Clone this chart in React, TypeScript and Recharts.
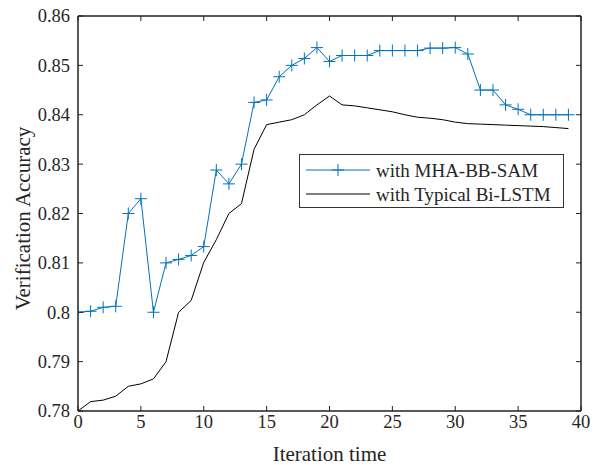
import React from "react";
import { LineChart, Line, XAxis, YAxis, Legend } from "recharts";

const iterations = [
  0, 1, 2, 3, 4, 5, 6, 7, 8, 9, 10, 11, 12, 13, 14, 15, 16, 17, 18, 19,
  20, 21, 22, 23, 24, 25, 26, 27, 28, 29, 30, 31, 32, 33, 34, 35, 36, 37, 38, 39,
];
const mhaBbSam = [
  0.8, 0.8002, 0.801, 0.8012, 0.82, 0.823, 0.8, 0.81, 0.8107, 0.8115,
  0.8133, 0.8288, 0.826, 0.83, 0.8425, 0.843, 0.8477, 0.85, 0.8514, 0.8536,
  0.8508, 0.852, 0.852, 0.852, 0.853, 0.853, 0.853, 0.853, 0.8535, 0.8535,
  0.8536, 0.8523, 0.845, 0.845, 0.842, 0.8411, 0.84, 0.84, 0.84, 0.84,
];
const typicalBiLstm = [
  0.78, 0.7819, 0.7822, 0.783, 0.785, 0.7855, 0.7865, 0.79, 0.8, 0.8024,
  0.8101, 0.8147, 0.82, 0.822, 0.833, 0.838, 0.8385, 0.839, 0.84, 0.842,
  0.8438, 0.842, 0.8418, 0.8414, 0.841, 0.8406, 0.84, 0.8395, 0.8393, 0.839,
  0.8385, 0.8382, 0.8381, 0.838, 0.8379, 0.8378, 0.8377, 0.8376, 0.8374, 0.8372,
];
const xTicks = [0, 5, 10, 15, 20, 25, 30, 35, 40];
const yTicks = [0.78, 0.79, 0.8, 0.81, 0.82, 0.83, 0.84, 0.85, 0.86];
const seriesNames = ["with MHA-BB-SAM", "with Typical Bi-LSTM"];

const data = iterations.map((it, i) => ({
  it,
  mha: mhaBbSam[i],
  bilstm: typicalBiLstm[i],
}));

const FONT = "'Liberation Serif', 'Times New Roman', Times, serif";
const BLUE = "#0072BD";
const TEXT = "#262626";
const TICK_LEN = 5;
const TICK_FONT = 18.5;

const fmtY = (v: number) => String(Number(v.toFixed(2)));

const BottomTick = (props: any) => {
  const { x, y, payload } = props;
  return (
    <g>
      <line x1={x} y1={y} x2={x} y2={y - TICK_LEN} stroke="#222" strokeWidth={1} />
      <text x={x} y={y + 17} textAnchor="middle" fontSize={TICK_FONT} style={{ fontFamily: FONT }} fill={TEXT}>
        {payload.value}
      </text>
    </g>
  );
};
const TopTick = (props: any) => {
  const { x, y } = props;
  return <line x1={x} y1={y} x2={x} y2={y + TICK_LEN} stroke="#222" strokeWidth={1} />;
};
const LeftTick = (props: any) => {
  const { x, y, payload } = props;
  return (
    <g>
      <line x1={x} y1={y} x2={x + TICK_LEN} y2={y} stroke="#222" strokeWidth={1} />
      <text x={x - 8} y={y} dy="0.35em" textAnchor="end" fontSize={TICK_FONT} style={{ fontFamily: FONT }} fill={TEXT}>
        {fmtY(payload.value)}
      </text>
    </g>
  );
};
const RightTick = (props: any) => {
  const { x, y } = props;
  return <line x1={x} y1={y} x2={x - TICK_LEN} y2={y} stroke="#222" strokeWidth={1} />;
};

const PlusDot = (props: any) => {
  const { cx, cy, index } = props;
  if (cx == null || cy == null) return <g key={index} />;
  const s = 6;
  return (
    <g key={index}>
      <line x1={cx - s} y1={cy} x2={cx + s} y2={cy} stroke={BLUE} strokeWidth={1} />
      <line x1={cx} y1={cy - s} x2={cx} y2={cy + s} stroke={BLUE} strokeWidth={1} />
    </g>
  );
};

const LegendBox = () => (
  <svg width={265} height={54} style={{ display: "block" }}>
    <rect x={0.5} y={0.5} width={264} height={53} fill="#fff" stroke="#333" strokeWidth={1} />
    <line x1={7} y1={16} x2={71} y2={16} stroke={BLUE} strokeWidth={1} />
    <line x1={33} y1={16} x2={45} y2={16} stroke={BLUE} strokeWidth={1} />
    <line x1={39} y1={10} x2={39} y2={22} stroke={BLUE} strokeWidth={1} />
    <text x={77} y={16} dy="0.35em" fontSize={19} style={{ fontFamily: FONT }} fill={TEXT}>
      {seriesNames[0]}
    </text>
    <line x1={7} y1={40} x2={71} y2={40} stroke="#000" strokeWidth={1} />
    <text x={77} y={40} dy="0.35em" fontSize={19} style={{ fontFamily: FONT }} fill={TEXT}>
      {seriesNames[1]}
    </text>
  </svg>
);

const YTitle = (props: any) => {
  const { viewBox } = props;
  const cx = viewBox.x + 23;
  const cy = viewBox.y + viewBox.height / 2 + 5;
  return (
    <text x={cx} y={cy} transform={`rotate(-90, ${cx}, ${cy})`} textAnchor="middle" dy="0.35em" fontSize={21} style={{ fontFamily: FONT }} fill={TEXT}>
      Verification Accuracy
    </text>
  );
};
const XTitle = (props: any) => {
  const { viewBox } = props;
  const cx = viewBox.x + viewBox.width / 2;
  const cy = viewBox.y + 43;
  return (
    <text x={cx} y={cy} textAnchor="middle" dy="0.35em" fontSize={21} style={{ fontFamily: FONT }} fill={TEXT}>
      Iteration time
    </text>
  );
};

export default function App() {
  return (
    <div style={{ position: "absolute", left: 0, top: 0, width: 598, height: 465, background: "#fff" }}>
      <LineChart width={598} height={465} data={data} margin={{ top: 0, right: 0, bottom: 0, left: 0 }}>
        <XAxis
          dataKey="it"
          type="number"
          domain={[0, 40]}
          ticks={xTicks}
          allowDataOverflow
          height={54}
          tickSize={0}
          tickMargin={0}
          tick={<BottomTick />}
          tickLine={false}
          axisLine={{ stroke: "#222", strokeWidth: 1.5 }}
          label={<XTitle />}
        />
        <XAxis
          xAxisId="top"
          orientation="top"
          dataKey="it"
          type="number"
          domain={[0, 40]}
          ticks={xTicks}
          allowDataOverflow
          height={16}
          tickSize={0}
          tickMargin={0}
          tick={<TopTick />}
          tickLine={false}
          axisLine={{ stroke: "#222", strokeWidth: 1.5 }}
        />
        <YAxis
          type="number"
          domain={[0.78, 0.86]}
          ticks={yTicks}
          allowDataOverflow
          width={78}
          tickSize={0}
          tickMargin={0}
          tick={<LeftTick />}
          tickLine={false}
          axisLine={{ stroke: "#222", strokeWidth: 1.5 }}
          label={<YTitle />}
        />
        <YAxis
          yAxisId="right"
          orientation="right"
          type="number"
          domain={[0.78, 0.86]}
          ticks={yTicks}
          allowDataOverflow
          width={17}
          tickSize={0}
          tickMargin={0}
          tick={<RightTick />}
          tickLine={false}
          axisLine={{ stroke: "#222", strokeWidth: 1.5 }}
        />
        <Legend
          layout="vertical"
          align="center"
          verticalAlign="middle"
          content={<LegendBox />}
          wrapperStyle={{ left: 299, top: 154, width: 265, height: 54 }}
        />
        <Line
          dataKey="bilstm"
          name={seriesNames[1]}
          stroke="#000"
          strokeWidth={1}
          dot={false}
          activeDot={false}
          isAnimationActive={false}
          type="linear"
        />
        <Line
          dataKey="mha"
          name={seriesNames[0]}
          stroke={BLUE}
          strokeWidth={1}
          dot={<PlusDot />}
          activeDot={false}
          isAnimationActive={false}
          type="linear"
        />
      </LineChart>
    </div>
  );
}
